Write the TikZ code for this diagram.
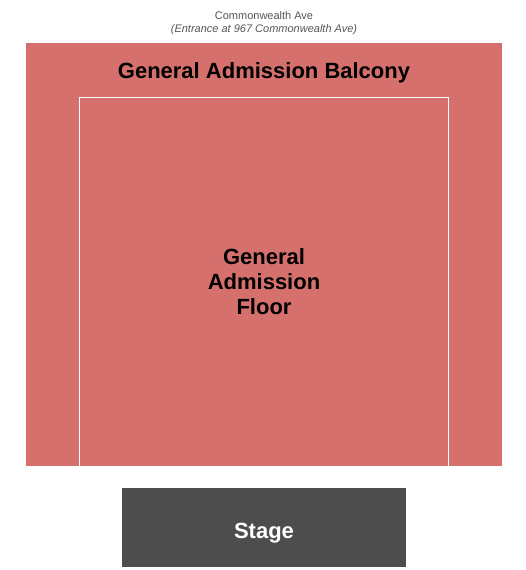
\documentclass[tikz,border=0pt]{standalone}
\usepackage{fontspec}
\setmainfont{Liberation Sans}
\usepackage{tikz}
\usetikzlibrary{positioning}
\definecolor{seatred}{RGB}{214,112,108}
\definecolor{stagegray}{RGB}{77,77,77}
\definecolor{notegray}{RGB}{85,85,85}

\begin{document}
\begin{tikzpicture}[x=1pt, y=-1pt,
  bigtext/.style={font=\fontsize{22}{25}\selectfont\bfseries, align=center, inner sep=0pt},
  note/.style={font=\fontsize{11}{13}\selectfont, text=notegray, inner sep=0pt, anchor=base}]
\useasboundingbox (0,0) rectangle (525,570);
% The street
\node[note] (street) at (264,19) {Commonwealth Ave};
\node[note, font=\fontsize{11}{13}\selectfont\itshape] (entrance) at (264,32) {(Entrance at 967 Commonwealth Ave)};
% The balcony and the floor
\fill[seatred] (26,43) rectangle (502,466);
\draw[white, line width=1pt] (79,466) -- (79,97) -- (448,97) -- (448,466);
\node[bigtext] (balcony) at (264,73) {General Admission Balcony};
\node[bigtext] (floor) at (264,282) {General\\Admission\\Floor};
% The stage
\fill[stagegray] (122,488) rectangle (406,567);
\node[bigtext, text=white] (stage) at (264,533) {Stage};
\end{tikzpicture}
\end{document}
